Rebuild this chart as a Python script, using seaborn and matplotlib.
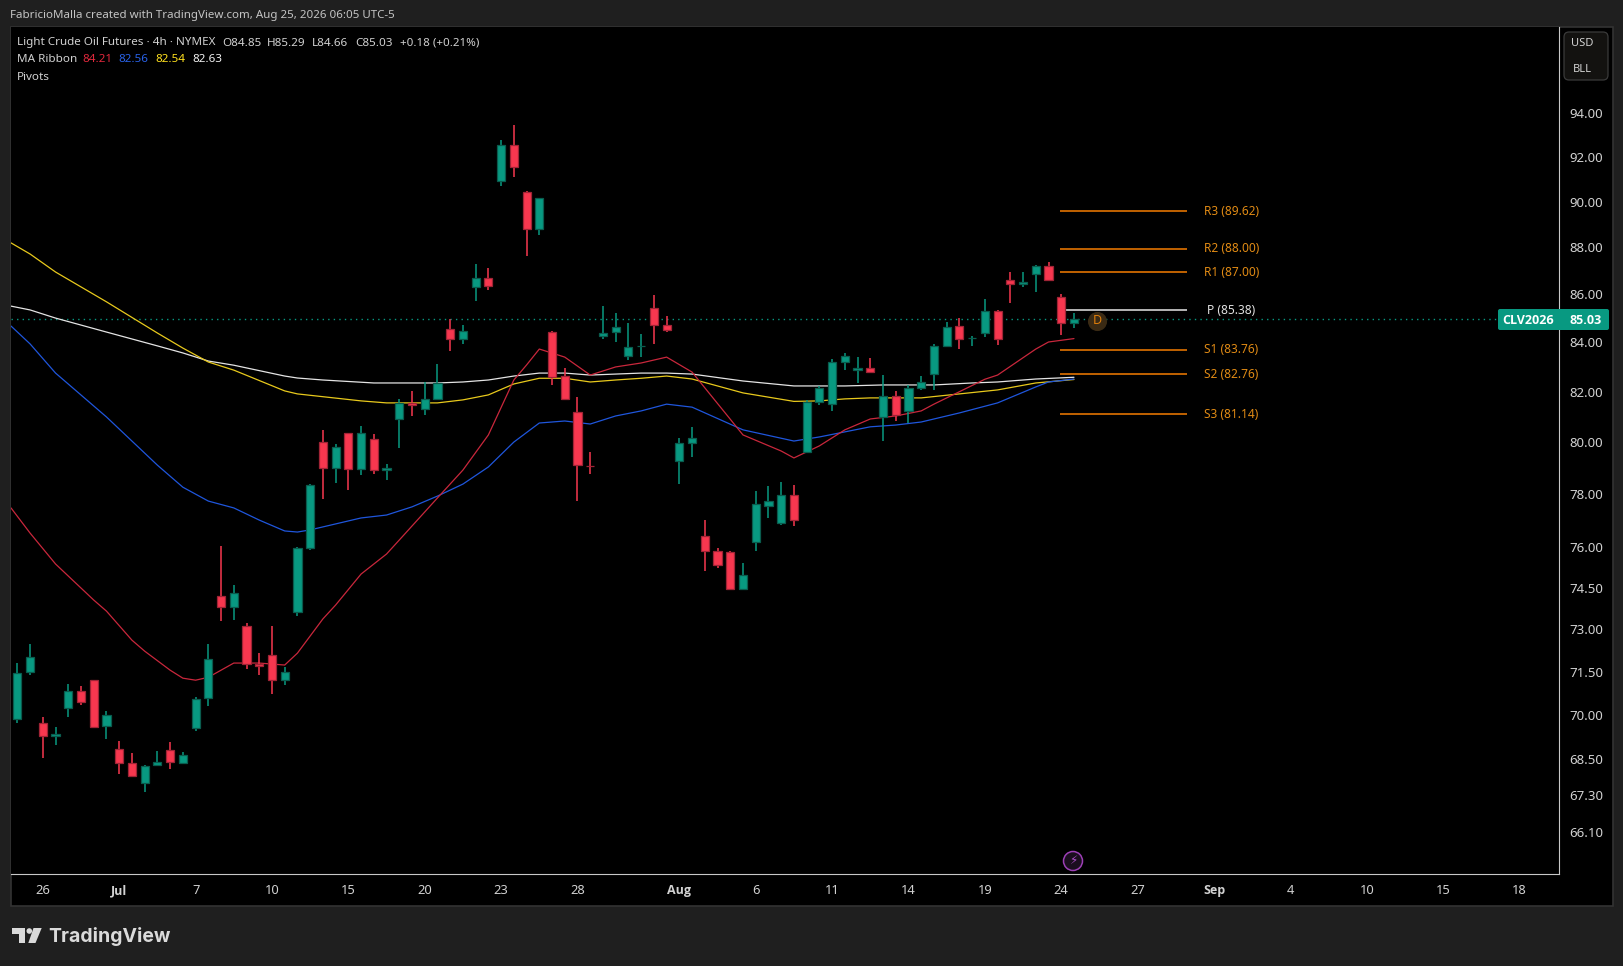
import matplotlib
matplotlib.use("Agg")
import matplotlib.pyplot as plt
import matplotlib.transforms as mtransforms
from matplotlib.patches import Rectangle, FancyBboxPatch, Polygon, Circle
from matplotlib.ticker import FixedLocator, FixedFormatter, NullLocator
import numpy as np
import pandas as pd
import seaborn as sns

# ---- candles ----
opens = [69.89,71.51,69.75,69.31,70.26,70.88,71.23,69.65,68.87,68.40,67.73,68.33,68.83,68.40,69.58,70.61,
         74.24,73.83,73.17,71.81,72.11,71.23,73.66,75.99,80.04,79.05,80.40,78.99,80.16,78.95,80.95,81.61,
         81.35,81.74,84.59,84.18,86.35,86.73,90.95,92.57,90.46,88.84,84.47,82.67,81.23,79.13,84.31,84.47,
         83.48,83.89,85.47,84.76,79.30,80.00,76.46,75.91,75.84,74.51,76.21,77.59,76.93,77.99,79.65,81.62,
         81.54,83.24,82.91,82.99,81.03,81.86,81.29,82.19,82.75,83.89,84.72,84.22,84.43,85.34,86.65,86.48,
         86.90,87.24,85.93,84.85]
highs = [71.83,72.50,69.96,69.63,71.12,71.03,71.25,70.16,69.15,68.73,68.33,68.80,69.10,68.77,70.67,72.50,
         76.09,74.64,73.25,72.18,73.15,71.69,76.05,78.44,80.53,79.96,80.42,80.67,80.36,79.18,81.74,82.06,
         82.45,83.17,85.01,84.77,87.34,87.16,92.80,93.50,90.52,90.22,84.52,83.00,81.82,79.65,85.55,85.26,
         84.84,84.40,86.01,85.15,80.20,80.64,77.04,76.00,75.88,75.43,78.14,78.34,78.50,78.38,81.72,82.29,
         83.36,83.61,83.45,83.41,82.72,82.06,82.32,82.68,83.99,84.88,85.05,84.32,85.85,85.40,86.99,86.99,
         87.28,87.43,86.05,85.29]
lows = [69.77,71.43,68.58,69.02,69.98,70.38,69.60,69.23,68.04,67.94,67.44,68.31,68.21,68.40,69.50,70.34,
        73.35,73.37,71.63,71.43,70.76,71.06,73.51,75.93,77.86,78.47,78.20,78.77,78.82,78.59,79.83,81.09,
        81.13,81.72,83.71,84.00,85.79,86.23,90.75,91.14,87.70,88.61,82.33,81.72,77.78,78.82,84.21,84.08,
        83.34,83.47,84.00,84.50,78.43,79.48,75.15,75.27,74.45,74.45,75.90,77.14,76.86,76.83,79.63,81.52,
        81.28,82.94,82.40,82.80,80.11,80.88,80.79,82.12,82.13,83.87,83.78,83.90,84.28,83.95,85.69,86.36,
        86.15,86.63,84.35,84.66]
closes = [71.50,72.04,69.31,69.40,70.88,70.50,69.64,70.04,68.40,67.99,68.31,68.45,68.43,68.67,70.57,71.99,
          73.83,74.35,71.79,71.72,71.23,71.54,75.99,78.40,79.05,79.85,78.99,80.40,78.95,79.05,81.61,81.50,
          81.74,82.39,84.18,84.51,86.73,86.39,92.57,91.58,88.84,90.20,82.65,81.74,79.14,79.125,84.45,84.70,
          83.85,83.89,84.76,84.55,80.00,80.20,75.91,75.36,74.51,74.99,77.65,77.76,77.99,77.04,81.62,82.19,
          83.24,83.48,82.99,82.85,81.86,81.13,82.19,82.43,83.89,84.68,84.18,84.22,85.34,84.18,86.48,86.56,
          87.24,86.65,84.84,85.03]

# ---- MA ribbon (bar index, value) ----
red_bar = [-0.5,1,3,6,7,9,10,12,13,14,15,17,19,21,22,24,25,27,29,30,33,35,37,39,40,41,43,45,47,49,51,53,57,60,61,63,65,67,69,71,72,76,77,80,81,83]
red_val = [77.51,76.56,75.41,74.09,73.69,72.65,72.26,71.59,71.31,71.24,71.34,71.84,71.84,71.77,72.19,73.41,73.91,75.04,75.78,76.30,77.89,78.96,80.33,82.52,83.13,83.78,83.45,82.72,83.05,83.21,83.45,82.84,80.33,79.70,79.43,79.90,80.53,80.96,81.08,81.28,81.55,82.55,82.72,83.78,84.07,84.21]
blue_bar = [-0.5,1,3,7,11,13,15,17,19,21,22,23,27,29,31,33,35,37,39,41,43,45,47,49,51,53,57,61,63,65,67,69,71,74,77,80,81,83]
blue_val = [84.73,83.99,82.80,81.04,79.15,78.30,77.77,77.51,77.05,76.64,76.60,76.68,77.13,77.24,77.55,77.96,78.42,79.08,80.05,80.80,80.88,80.76,81.08,81.28,81.55,81.43,80.53,80.09,80.25,80.45,80.65,80.72,80.84,81.20,81.60,82.24,82.44,82.56]
yellow_bar = [-0.5,1,3,7,11,13,15,17,21,22,27,29,33,35,37,39,41,43,45,47,49,51,53,57,61,63,65,67,71,74,77,80,83]
yellow_val = [88.25,87.77,87.00,85.74,84.44,83.82,83.25,82.92,82.08,81.96,81.68,81.60,81.60,81.72,81.92,82.36,82.59,82.59,82.44,82.52,82.59,82.68,82.56,82.00,81.66,81.68,81.76,81.80,81.80,81.96,82.12,82.40,82.54]
white_bar = [-0.5,1,3,7,11,13,15,17,21,22,24,28,33,35,37,39,41,43,45,47,49,51,53,57,61,65,68,72,75,77,80,83]
white_val = [85.56,85.40,85.06,84.48,83.91,83.62,83.29,83.12,82.68,82.60,82.52,82.40,82.40,82.44,82.52,82.68,82.80,82.80,82.72,82.76,82.80,82.80,82.76,82.48,82.28,82.28,82.32,82.32,82.40,82.44,82.56,82.63]

# ---- pivots ----
pivot_names = ["R3", "R2", "R1", "P", "S1", "S2", "S3"]
pivot_vals = [89.62, 88.00, 87.00, 85.38, 83.76, 82.76, 81.14]

# ---- axes labels ----
price_ticks = [94, 92, 90, 88, 86, 84, 82, 80, 78, 76, 74.5, 73, 71.5, 70, 68.5, 67.3, 66.1]
time_bars = [2, 8, 14, 20, 26, 32, 38, 44, 52, 58, 64, 70, 76, 82, 88, 94, 100, 106, 112, 118]
time_labels = ["26", "Jul", "7", "10", "15", "20", "23", "28", "Aug", "6", "11", "14", "19", "24", "27", "Sep", "4", "10", "15", "18"]
month_labels = {"Jul", "Aug", "Sep"}
last_price = 85.03

BG, GREEN, RED = "#1f1f1f", "#089981", "#F7374F"
GREEN_E, RED_E = "#0A5C4E", "#A02436"
GREY = "#D1D1D1"
ORANGE, ORANGE_T = "#F57C00", "#E08A14"
W, H = 1623, 966

sns.set_theme(style="dark")
plt.rcParams["font.family"] = ["Noto Sans", "DejaVu Sans"]
plt.rcParams["axes.unicode_minus"] = False

fig = plt.figure(figsize=(W / 100, H / 100), dpi=100, facecolor=BG)
PX = mtransforms.Affine2D().scale(1, -1).translate(0, H)

def px_text(x, y, s, color=GREY, size=8.4, ha="left", va="center", **kw):
    fig.text(x, y, s, transform=PX, color=color, fontsize=size, ha=ha, va=va, zorder=8, **kw)

# frame of the chart pane
fig.add_artist(Rectangle((10.5, 26.5), 1602, 879.5, transform=PX, facecolor="black",
                         edgecolor="#333333", linewidth=1.2, zorder=-1))

ax = fig.add_axes([11 / W, 1 - 874 / H, (1559 - 11) / W, (874 - 27) / H])
ax.set_facecolor("black")
ax.set_yscale("log")
ax.set_xlim(-0.5, 121.1)
ax.set_ylim(64.79, 98.09)

# MA ribbon
for bars, vals, col in [(white_bar, white_val, "#E4E4E4"), (yellow_bar, yellow_val, "#E8C91C"),
                        (blue_bar, blue_val, "#1F56DC"), (red_bar, red_val, "#C9273C")]:
    sns.lineplot(data=pd.DataFrame({"bar": bars, "ma": vals}), x="bar", y="ma", ax=ax, color=col,
                 linewidth=0.9, estimator=None, errorbar=None, legend=False, zorder=2)

# last price
ax.axhline(last_price, color=GREEN, linestyle=(0, (1, 3)), linewidth=1.0, zorder=1.5)

# candles
frame = pd.DataFrame({"o": opens, "h": highs, "l": lows, "c": closes})
frame["bar"] = np.arange(len(frame))
up = frame.c >= frame.o
ax.vlines(frame.bar[up], frame.l[up], frame.h[up], color=GREEN, linewidth=1.1, zorder=3)
ax.vlines(frame.bar[~up], frame.l[~up], frame.h[~up], color=RED, linewidth=1.1, zorder=3)
ax.bar(frame.bar[up], (frame.c - frame.o)[up], bottom=frame.o[up], width=0.64, color=GREEN,
       edgecolor=GREEN_E, linewidth=0.9, zorder=4)
ax.bar(frame.bar[~up], (frame.c - frame.o)[~up], bottom=frame.o[~up], width=0.64, color=RED,
       edgecolor=RED_E, linewidth=0.9, zorder=4)

# pivots
for name, val in zip(pivot_names, pivot_vals):
    is_p = name == "P"
    ax.hlines(val, 81.9, 91.85, color="#E6E6E6" if is_p else ORANGE, linewidth=1.1, zorder=2.5)
    ax.text(95.35, val, f"{name} ({val:.2f})", color="#E0E0E0" if is_p else ORANGE_T,
            fontsize=8.6, ha="center", va="center", zorder=5)

# daily marker
ax.scatter([84.8], [84.95], s=190, color="#3A2A14", zorder=5, linewidths=0)
ax.text(84.8, 84.95, "D", color="#E07E0A", fontsize=9, ha="center", va="center", zorder=6)

# axes
ax.yaxis.tick_right()
ax.yaxis.set_major_locator(FixedLocator(price_ticks))
ax.yaxis.set_major_formatter(FixedFormatter([f"{p:.2f}" for p in price_ticks]))
ax.yaxis.set_minor_locator(NullLocator())
ax.xaxis.set_major_locator(FixedLocator(time_bars))
ax.xaxis.set_major_formatter(FixedFormatter(time_labels))
ax.tick_params(axis="y", length=0, pad=7.2, labelsize=9.5, labelcolor=GREY)
ax.tick_params(axis="x", length=0, pad=7.5, labelsize=9.3, labelcolor=GREY)
fig.canvas.draw()
lift = mtransforms.Affine2D().translate(0, 1.2)
for tick in ax.yaxis.get_major_ticks():
    tick.label2.set_transform(tick.label2.get_transform() + lift)
for tick, txt in zip(ax.xaxis.get_major_ticks(), time_labels):
    if txt in month_labels:
        tick.label1.set_family(["Open Sans", "DejaVu Sans"])
        tick.label1.set_fontweight("bold")
        tick.label1.set_fontsize(9.0)
ax.set_xlabel("")
ax.set_ylabel("")
ax.grid(False)
for side in ("top", "left"):
    ax.spines[side].set_visible(False)
for side in ("right", "bottom"):
    ax.spines[side].set_color("#C8C8C8")
    ax.spines[side].set_linewidth(0.8)

# header and legend texts
px_text(10, 15.5, "FabricioMalla created with TradingView.com, Aug 25, 2026 06:05 UTC-5", color="#C4C4C4", size=8.3)
px_text(17, 43, "Light Crude Oil Futures · 4h · NYMEX")
px_text(222.5, 43, "O84.85")
px_text(267, 43, "H85.29")
px_text(312, 43, "L84.66")
px_text(355, 43, "C85.03")
px_text(399.5, 43, "+0.18 (+0.21%)", size=8.3)
px_text(17, 60, "MA Ribbon")
px_text(82, 60, "84.21", color="#E0283C")
px_text(118, 60, "82.56", color="#2962E8")
px_text(155, 60, "82.54", color="#FFE01E")
px_text(192, 60, "82.63", color="#F2F2F2")
px_text(17, 77, "Pivots")

# currency / unit box
fig.add_artist(FancyBboxPatch((1564, 32), 44, 48, boxstyle="round,pad=0,rounding_size=5", transform=PX,
                              facecolor="#131210", edgecolor="#3A3A3A", linewidth=0.9, zorder=6))
px_text(1582, 44, "USD", ha="center", size=8.0)
px_text(1582, 70, "BLL", ha="center", size=8.0)

# last price labels
bold = dict(family=["Open Sans", "DejaVu Sans"], fontweight="bold")
fig.add_artist(FancyBboxPatch((1498, 309), 111, 21, boxstyle="round,pad=0,rounding_size=2", transform=PX,
                              facecolor=GREEN, edgecolor="none", zorder=6))
fig.add_artist(Rectangle((1558.6, 309), 0.8, 21, transform=PX, facecolor="#4FB9A6", edgecolor="none", zorder=7))
px_text(1528.5, 320, "CLV2026", color="white", ha="center", size=9.0, **bold)
px_text(1586, 320, "85.03", color="white", ha="center", size=9.0, **bold)

# lightning badge
fig.add_artist(Circle((1073, 861), 9.5, transform=PX, facecolor="#1A0E1E", edgecolor="#9C3FB5",
                      linewidth=1.1, zorder=6))
px_text(1073, 861, "\u26a1", color="#B04FCB", ha="center", size=8.5, family=["DejaVu Sans"])

# logo
logo = "#DADADA"
fig.add_artist(Polygon([(12, 928), (25, 928), (25, 943), (18.7, 943), (18.7, 934), (12, 934)], closed=True,
                       transform=PX, facecolor=logo, edgecolor="none", zorder=6))
fig.add_artist(Circle((29.3, 931), 2.8, transform=PX, facecolor=logo, edgecolor="none", zorder=6))
fig.add_artist(Polygon([(33.5, 928), (41.7, 928), (35.5, 943), (28.3, 943)], closed=True,
                       transform=PX, facecolor=logo, edgecolor="none", zorder=6))
px_text(48.5, 936, "TradingView", color=logo, size=14.0, family=["Inter", "DejaVu Sans"], fontweight="bold")

fig.savefig("out.png", dpi=100, facecolor=BG)
